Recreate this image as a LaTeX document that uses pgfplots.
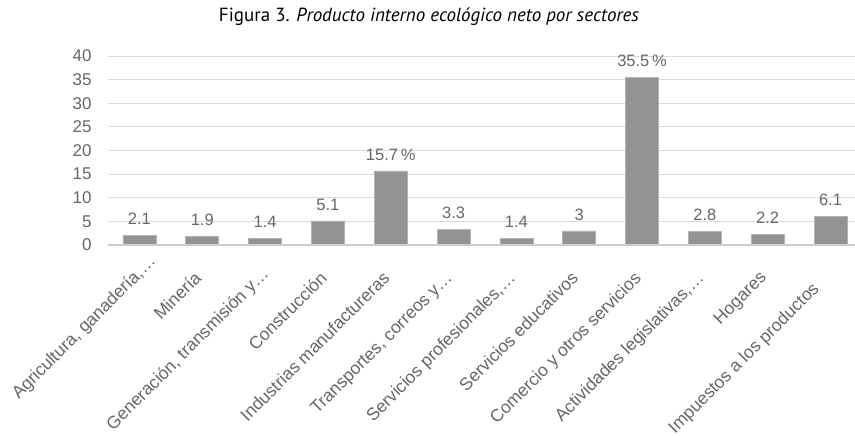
\documentclass[border=0pt]{standalone}
\usepackage{pgfplots}
\pgfplotsset{compat=1.18}
\usepackage{fontspec}
\setmainfont{Liberation Sans}
\newfontfamily\titlefont{PT Sans}
\definecolor{bargray}{HTML}{939393}
\definecolor{txtgray}{HTML}{666666}
\definecolor{gridgray}{HTML}{DADADA}
\begin{document}
\begin{tikzpicture}[x=1pt,y=1pt]
\useasboundingbox (0,0) rectangle (855,436);
\node[font=\titlefont\fontsize{19}{22}\selectfont] at (429,419) {Figura 3. \textit{Producto interno ecológico neto por sectores}};
\begin{axis}[
  at={(108pt,191pt)}, anchor=south west,
  scale only axis, width=747pt, height=189pt,
  xmin=-0.5, xmax=11.39, ymin=0, ymax=40,
  ytick={0,5,...,40},
  xtick={0,...,11},
  xticklabels={{Agricultura, ganadería,…\kern-24pt}, Minería, {Generación,  transmisión y…\kern-6pt}, Construcción, Industrias manufactureras, {Transportes,  correos y…}, {Servicios profesionales,…}, Servicios educativos, Comercio y otros servicios, {Actividades legislativas,…}, Hogares, {Impuestos a los productos\kern15pt}},
  x tick label style={xshift=-9pt, yshift=-25pt, rotate=45, anchor=north east, font=\fontsize{17.5}{20}\selectfont, text=txtgray, inner sep=0pt},
  y tick label style={font=\fontsize{17}{19}\selectfont, text=txtgray},
  yticklabel shift=13pt,
  /pgf/number format/assume math mode=true,
  ymajorgrids, grid style={gridgray, line width=0.8pt},
  axis line style={draw=none},
  major tick length=0pt,
  ybar, bar width=33pt,
  point meta=explicit symbolic,
  nodes near coords,
  nodes near coords style={font=\fontsize{16.5}{18}\selectfont, text=txtgray, anchor=south, yshift=7pt},
  clip=false,
]
\addplot[fill=bargray, draw=bargray!70!white, line width=0.6pt] coordinates {
(0,2.1) [2.1]
(1,1.9) [1.9]
(2,1.4) [1.4]
(3,5.1) [5.1]
(4,15.7) [15.7\,\%]
(5,3.3) [3.3]
(6,1.4) [1.4]
(7,3) [3]
(8,35.5) [35.5\,\%]
(9,2.8) [2.8]
(10,2.2) [2.2]
(11,6.1) [6.1]
};
\draw[gridgray!85!gray, line width=2pt] (axis cs:-0.5,0) -- (axis cs:11.39,0);
\end{axis}
\end{tikzpicture}
\end{document}
